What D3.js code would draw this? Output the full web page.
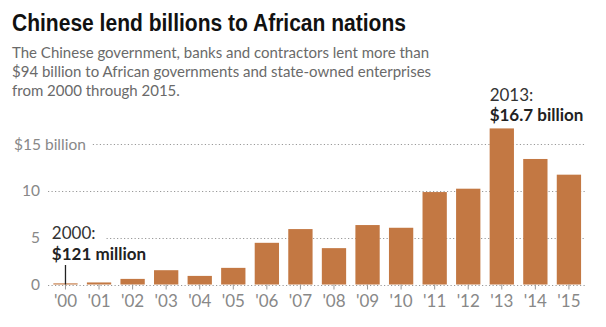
<!DOCTYPE html>
<html>
<head>
<meta charset="utf-8">
<script src="https://cdn.jsdelivr.net/npm/d3@7"></script>
<style>
  body { margin: 0; background: #fff; }
  svg { display: block; }
</style>
</head>
<body>
<svg id="chart" width="606" height="327"></svg>
<script>
// data, billions of US dollars
const years = ["2000","2001","2002","2003","2004","2005","2006","2007","2008","2009","2010","2011","2012","2013","2014","2015"];
const yearLabels = ["'00","'01","'02","'03","'04","'05","'06","'07","'08","'09","'10","'11","'12","'13","'14","'15"];
const loans = [0.121, 0.22, 0.6, 1.53, 0.92, 1.78, 4.46, 5.93, 3.89, 6.36, 6.07, 9.89, 10.25, 16.7, 13.43, 11.75];
const yTicks = [0, 5, 10, 15];
const yTickLabels = ["0", "5", "10", "$15 billion"];
const subtitleLines = [
  "The Chinese government, banks and contractors lent more than",
  "$94 billion to African governments and state-owned enterprises",
  "from 2000 through 2015."
];

const svg = d3.select("#chart");
const font = "Lato, 'Liberation Sans', sans-serif";
const barColor = "#c37843";

// title + subtitle (title squeezed to mimic the condensed headline face)
svg.append("text")
  .attr("x", 12).attr("y", 31)
  .attr("font-family", "'Liberation Sans', sans-serif")
  .attr("font-weight", "bold")
  .attr("font-size", 23)
  .attr("textLength", 394)
  .attr("lengthAdjust", "spacingAndGlyphs")
  .attr("fill", "#111")
  .text("Chinese lend billions to African nations");

svg.append("g").selectAll("text")
  .data(subtitleLines)
  .join("text")
  .attr("x", 12)
  .attr("y", (d, i) => 57.5 + i * 19.3)
  .attr("font-family", font)
  .attr("font-size", 15)
  .attr("fill", "#6a6a6a")
  .text(d => d);

const x = d3.scaleBand().domain(years).range([48.7, 585.7]).paddingInner(0.276).paddingOuter(0.138);
const y = d3.scaleLinear().domain([0, 15]).range([284.5, 144.3]);

// y labels
const yLab = svg.append("g").selectAll("text")
  .data(yTicks)
  .join("text")
  .attr("x", 40)
  .attr("y", d => y(d))
  .attr("dy", "0.35em")
  .attr("font-family", font)
  .attr("font-size", 15.5)
  .attr("fill", "#888")
  .text((d, i) => yTickLabels[i]);

// "$15 billion" hangs past the number column
yLab.filter(d => d === 15)
  .attr("text-anchor", "start")
  .each(function () {
    const num = this.getSubStringLength(0, 3);
    d3.select(this).attr("x", 41 - num);
  });
yLab.filter(d => d !== 15).attr("text-anchor", "end");

// annotation for 2000
const ann00 = svg.append("g");
ann00.append("text")
  .attr("x", x("2000") - 1.5).attr("y", 239)
  .attr("font-family", font).attr("font-size", 17).attr("fill", "#333")
  .text("2000:");
ann00.append("text")
  .attr("x", x("2000") - 1.5).attr("y", 259.5)
  .attr("font-family", font).attr("font-size", 17).attr("font-weight", "bold").attr("fill", "#222")
  .text("$121 million");

// gridlines, start after whatever text sits on the left
const grid = svg.insert("g", ":first-child");
yLab.each(function (d) {
  let start = d === 15 ? this.getBBox().x + this.getBBox().width + 7 : 48;
  if (d === 5) start = ann00.node().getBBox().x + ann00.select("text").node().getComputedTextLength() + 11;
  grid.append("line")
    .attr("x1", start).attr("x2", 586)
    .attr("y1", Math.round(y(d)) + 0.5).attr("y2", Math.round(y(d)) + 0.5)
    .attr("stroke", "#999").attr("stroke-width", 1.2)
    .attr("stroke-dasharray", "1.2,2.3");
});

// bars
svg.append("g").selectAll("rect")
  .data(loans)
  .join("rect")
  .attr("x", (d, i) => x(years[i]))
  .attr("width", x.bandwidth())
  .attr("y", d => y(d))
  .attr("height", d => y(0) - y(d))
  .attr("fill", barColor);

// x axis: small ticks + labels
const xAxis = svg.append("g").attr("transform", `translate(0,${y(0)})`)
  .call(d3.axisBottom(x).tickSize(5).tickPadding(5).tickFormat((d, i) => yearLabels[i]));
xAxis.select(".domain").remove();
xAxis.selectAll(".tick line").attr("stroke", "#999");
xAxis.selectAll(".tick text")
  .attr("font-family", font).attr("font-size", 17).attr("fill", "#888");

// pointer line for the 2000 bar
svg.append("line")
  .attr("x1", x("2000") + x.bandwidth() / 2).attr("x2", x("2000") + x.bandwidth() / 2)
  .attr("y1", 265).attr("y2", y(0))
  .attr("stroke", "#222").attr("stroke-width", 1.3);

// annotation for 2013
svg.append("text")
  .attr("x", x("2013")).attr("y", 101)
  .attr("font-family", font).attr("font-size", 17).attr("fill", "#333")
  .text("2013:");
svg.append("text")
  .attr("x", x("2013")).attr("y", 121)
  .attr("font-family", font).attr("font-size", 17).attr("font-weight", "bold").attr("fill", "#222")
  .text("$16.7 billion");
</script>
</body>
</html>
